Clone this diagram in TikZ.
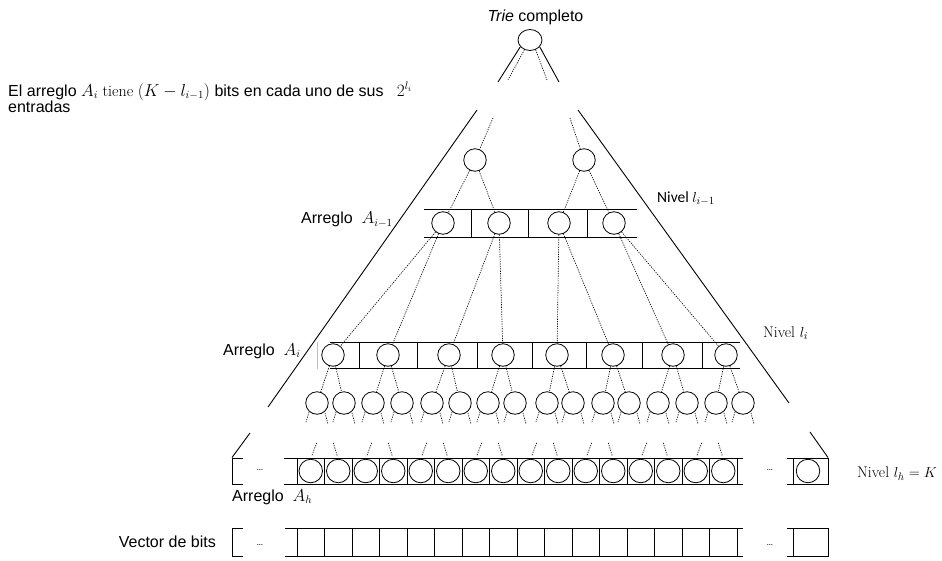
\documentclass[tikz,border=0pt]{standalone}
\usepackage{fontspec}
\newfontfamily\arial{Liberation Sans}
\newfontfamily\calib{Carlito}
\usetikzlibrary{shapes.geometric,calc}
\begin{document}
\begin{tikzpicture}[x=1pt,y=-1pt,
  nd/.style={draw,circle,line width=0.8pt,minimum size=22.5pt,inner sep=0pt},
  ndh/.style={draw,circle,line width=0.8pt,minimum size=23.5pt,inner sep=0pt},
  rootnd/.style={draw,ellipse,line width=0.8pt,minimum width=24pt,minimum height=21pt,inner sep=0pt},
  dl/.style={line width=0.65pt,dash pattern=on 1.2pt off 1.2pt,black},
  sl/.style={line width=0.9pt},
  box/.style={line width=0.9pt},
  txt/.style={inner sep=0pt,anchor=base west,font=\fontsize{16}{16}\selectfont\arial},
  ser/.style={inner sep=0pt,anchor=base west,font=\fontsize{15.5}{15.5}\selectfont},
  dots/.style={inner sep=0pt,anchor=base,font=\fontsize{11}{11}\selectfont},
]
\useasboundingbox (0,0) rectangle (942,560);

% ---------- texts ----------
\node[txt,anchor=base] (ttl) at (535.5,21) {\itshape Trie\upshape{} completo};
\node[txt] (desc1) at (8,96) {El arreglo $A_i\ \mathrm{tiene}\ (K-l_{i-1})$ bits en cada uno de sus\ \ \ $2^{l_i}$};
\node[txt] (desc2) at (8,112) {entradas};
\node[txt] (lA1) at (301,223.5) {Arreglo\ \ $A_{i-1}$};
\node[txt] (lA2) at (223,355) {Arreglo\ \ $A_i$};
\node[txt] (lA3) at (232,501) {Arreglo\ \ $A_h$};
\node[txt,anchor=base east] (lV) at (216,547) {Vector de bits};
\node[inner sep=0pt,anchor=base west,font=\fontsize{15.5}{15.5}\selectfont\calib] (nv1) at (657,202) {Nivel $l_{i-1}$};
\node[ser] (nv2) at (763,337) {Nivel $l_i$};
\node[ser] (nv3) at (857,477.5) {Nivel $l_h=K$};

% ---------- root ----------
\node[rootnd] (root) at (530,40) {};
\coordinate (rl) at (498,82);
\coordinate (rr) at (559,82);
\coordinate (rdl) at (508,80);
\coordinate (rdr) at (547,80);
\draw[sl] (root.215) -- (rl);
\draw[sl] (root.-35) -- (rr);
\draw[dl] (root.240) -- (rdl);
\draw[dl] (root.-60) -- (rdr);

% ---------- big triangle sides ----------
\coordinate (L1) at (477,110); \coordinate (L2) at (268,407);
\coordinate (L3) at (250,433); \coordinate (L4) at (232,457.5);
\coordinate (R1) at (578,110); \coordinate (R2) at (789,403);
\coordinate (R3) at (810,432); \coordinate (R4) at (828,457.5);
\draw[sl] (L1) -- (L2);
\draw[sl] (L3) -- (L4);
\draw[sl] (R1) -- (R2);
\draw[sl] (R3) -- (R4);

% ---------- level 1 ----------
\node[nd] (n1) at (475,160) {};
\node[nd] (n2) at (584,160) {};
\coordinate (t1) at (493,118);
\coordinate (t2) at (570,118);
\draw[dl] (t1) -- (n1);
\draw[dl] (t2) -- (n2);

% ---------- array A_{i-1} ----------
\draw[box] (424,209) -- (637,209);
\draw[box] (424,237) -- (637,237);
\foreach \x in {471,528,587} \draw[box] (\x,209) -- (\x,237);
\foreach \x [count=\i] in {443,499,559,614} \node[nd] (a\i) at (\x,223) {};
\draw[dl] (n1) -- (a1); \draw[dl] (n1) -- (a2);
\draw[dl] (n2) -- (a3); \draw[dl] (n2) -- (a4);

% ---------- array A_i ----------
\draw[line width=0.5pt,black!25] (317,342) -- (317,369);
\draw[box] (330,342) -- (740,342);
\draw[box] (330,368) -- (740,368);
\foreach \x in {359,417,477,532,586,642,702} \draw[box] (\x,342) -- (\x,368);
\foreach \x [count=\i] in {333,388,449,503,557,613,673,726} \node[nd] (b\i) at (\x,355) {};
\foreach \i in {1,...,4}{
  \pgfmathtruncatemacro\j{2*\i-1}
  \pgfmathtruncatemacro\k{2*\i}
  \draw[dl] (a\i) -- (b\j);
  \draw[dl] (a\i) -- (b\k);
}

% ---------- children level ----------
\foreach \x [count=\i] in {317,344,373,402,432,460,488,515,547,573,603,629,658,687,716,743}{
  \node[nd] (c\i) at (\x,403) {};
  \draw[dl] ([shift={(-8,0)}]c\i.center |- 0,412) -- ([shift={(-11,0)}]c\i.center |- 0,422);
  \draw[dl] ([shift={(8,0)}]c\i.center |- 0,413) -- ([shift={(11,0)}]c\i.center |- 0,424);
}
\foreach \i in {1,...,8}{
  \pgfmathtruncatemacro\j{2*\i-1}
  \pgfmathtruncatemacro\k{2*\i}
  \draw[dl] (b\i) -- (c\j);
  \draw[dl] (b\i) -- (c\k);
}

% ---------- array A_h ----------
\draw[box] (243,458) -- (232,458) -- (232,484) -- (243,484);
\node[dots] (d1) at (260,470.5) {\ldots};
\draw[box] (284,458) -- (743,458);
\draw[box] (284,484) -- (743,484);
\foreach \k in {0,...,16} \draw[box] (297+27.5*\k,458) -- (297+27.5*\k,484);
\foreach \k in {0,...,15}{
  \node[ndh] (h\k) at (310.75+27.5*\k,471) {};
  \pgfmathtruncatemacro\odd{mod(\k,2)}
  \ifnum\odd=0
    \draw[dl] ([shift={(6,-16)}]h\k.north) -- ([shift={(1,-3)}]h\k.north);
  \else
    \draw[dl] ([shift={(-5,-16)}]h\k.north) -- ([shift={(-1,-3)}]h\k.north);
  \fi
}
\node[dots] (d2) at (770,470.5) {\ldots};
\draw[box] (787,458) -- (828,458) -- (828,484) -- (787,484);
\draw[box] (793,458) -- (793,484);
\node[ndh] (hr) at (808,471) {};

% ---------- bit vector ----------
\draw[box] (243,528) -- (232,528) -- (232,556) -- (243,556);
\node[dots] (d3) at (260,545.5) {\ldots};
\draw[box] (285,528) -- (743,528);
\draw[box] (285,556) -- (743,556);
\foreach \k in {0,...,16} \draw[box] (297+27.5*\k,528) -- (297+27.5*\k,556);
\node[dots] (d4) at (770,545.5) {\ldots};
\draw[box] (787,528) -- (828,528) -- (828,556) -- (787,556);
\draw[box] (793,528) -- (793,556);
\end{tikzpicture}
\end{document}
